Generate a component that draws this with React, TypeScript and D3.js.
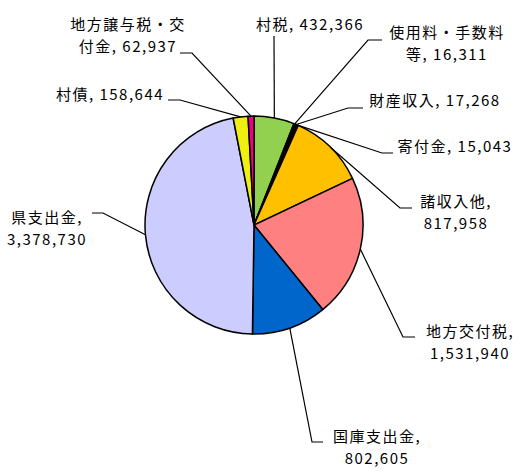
import * as d3 from "d3";
import { useEffect, useRef } from "react";

// 歳入の内訳（単位：千円）
const categories = [
  "村税",
  "使用料・手数料等",
  "財産収入",
  "寄付金",
  "諸収入他",
  "地方交付税",
  "国庫支出金",
  "県支出金",
  "村債",
  "地方譲与税・交付金",
];
const values = [
  432366, 16311, 17268, 15043, 817958, 1531940, 802605, 3378730, 158644, 62937,
];
const colors = [
  "#92D050",
  "#000000",
  "#000000",
  "#000000",
  "#FFC000",
  "#FF8080",
  "#0066CC",
  "#CCCCFF",
  "#F0F010",
  "#F0007F",
];

// label text as drawn (line breaks as in the original)
const labelLines = [
  ["村税, 432,366"],
  ["使用料・手数料", "等, 16,311"],
  ["財産収入, 17,268"],
  ["寄付金, 15,043"],
  ["諸収入他,", "817,958"],
  ["地方交付税,", "1,531,940"],
  ["国庫支出金,", "802,605"],
  ["県支出金,", "3,378,730"],
  ["村債, 158,644"],
  ["地方譲与税・交", "付金, 62,937"],
];

// layout: text center x, first line y, leader elbow [x, y], horizontal tail end x
const labelLayout: { tx: number; ty: number; ex: number; ey: number; hx: number }[] = [
  { tx: 310, ty: 25, ex: 274, ey: 36, hx: 274 },
  { tx: 447, ty: 33, ex: 368, ey: 40, hx: 382 },
  { tx: 435, ty: 101, ex: 348, ey: 108, hx: 363 },
  { tx: 455, ty: 147, ex: 382, ey: 153, hx: 393 },
  { tx: 456, ty: 202, ex: 400, ey: 208, hx: 412 },
  { tx: 470, ty: 332, ex: 403, ey: 337, hx: 415 },
  { tx: 377, ty: 437, ex: 312, ey: 442, hx: 323 },
  { tx: 47, ty: 218, ex: 103, ey: 213, hx: 92 },
  { tx: 110, ty: 95, ex: 180, ey: 100, hx: 168 },
  { tx: 128, ty: 25, ex: 192, ey: 53, hx: 180 },
];

const W = 530;
const H = 475;
const CX = 254;
const CY = 225;
const R = 109;
const LINE_GAP = 21.5;

export default function App() {
  const ref = useRef<SVGSVGElement>(null);

  useEffect(() => {
    if (!ref.current) return;
    const svg = d3.select(ref.current);
    svg.selectAll("*").remove();

    const data = categories.map((c, i) => ({ label: c, value: values[i], i }));

    const pie = d3
      .pie<(typeof data)[number]>()
      .value((d) => d.value)
      .sort(null);
    const arcs = pie(data);
    const arc = d3
      .arc<d3.PieArcDatum<(typeof data)[number]>>()
      .innerRadius(0)
      .outerRadius(R);

    const g = svg.append("g").attr("transform", `translate(${CX},${CY})`);
    g.selectAll("path")
      .data(arcs)
      .join("path")
      .attr("d", arc)
      .attr("fill", (d) => colors[d.data.i])
      .attr("stroke", "#000")
      .attr("stroke-width", 1.5)
      .attr("stroke-linejoin", "round");

    // leader lines + labels
    arcs.forEach((a) => {
      const L = labelLayout[a.data.i];
      const mid = (a.startAngle + a.endAngle) / 2;
      const px = CX + Math.sin(mid) * R;
      const py = CY - Math.cos(mid) * R;
      svg
        .append("path")
        .attr("d", `M${px},${py}L${L.ex},${L.ey}L${L.hx},${L.ey}`)
        .attr("fill", "none")
        .attr("stroke", "#000")
        .attr("stroke-width", 1.2);

      labelLines[a.data.i].forEach((line, k) => {
        svg
          .append("text")
          .attr("x", L.tx)
          .attr("y", L.ty + k * LINE_GAP)
          .attr("dy", "0.35em")
          .attr("text-anchor", "middle")
          .attr("font-family", "'Noto Sans CJK JP', 'Noto Sans', sans-serif")
          .attr("font-size", 15)
          .attr("letter-spacing", 1.5)
          .attr("fill", "#000")
          .text(line);
      });
    });
  }, []);

  return (
    <svg
      ref={ref}
      width={W}
      height={H}
      style={{ position: "absolute", left: 0, top: 0, background: "#fff" }}
    />
  );
}
